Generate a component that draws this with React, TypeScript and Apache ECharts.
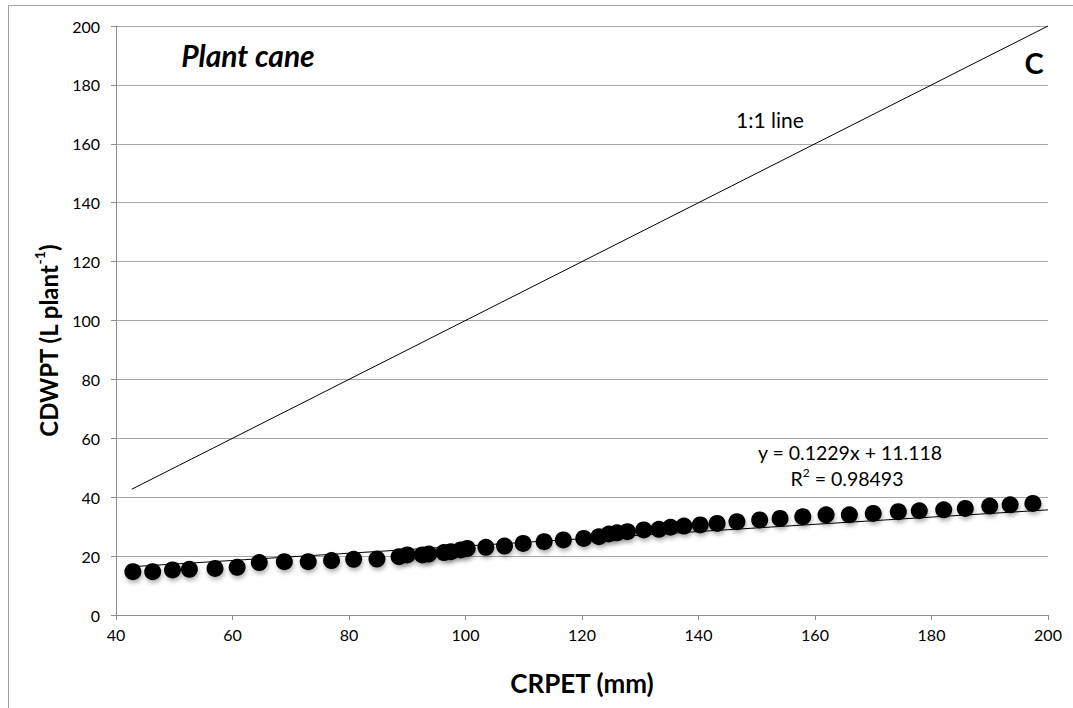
import React, { useEffect, useRef } from "react";
import * as echarts from "echarts";

const xValues = [42.9, 46.3, 49.7, 52.6, 57.0, 60.8, 64.6, 68.9, 73.0, 77.0, 80.8, 84.8, 88.6, 90.0, 92.6, 93.7, 96.3, 97.5, 99.2, 100.3, 103.5, 106.7, 109.9, 113.5, 116.8, 120.3, 122.9, 124.6, 126.0, 127.8, 130.6, 133.2, 135.2, 137.5, 140.3, 143.2, 146.6, 150.5, 154.0, 157.9, 161.9, 165.9, 170.0, 174.3, 177.9, 182.1, 185.8, 190.0, 193.5, 197.4];
const yValues = [14.7, 14.7, 15.3, 15.5, 15.8, 16.2, 17.8, 18.1, 18.1, 18.5, 18.9, 19.0, 19.8, 20.4, 20.4, 20.7, 21.2, 21.5, 22.1, 22.6, 23.0, 23.4, 24.3, 24.9, 25.5, 26.0, 26.6, 27.5, 27.9, 28.3, 28.9, 29.1, 29.8, 30.2, 30.6, 31.1, 31.7, 32.3, 32.8, 33.4, 34.0, 34.0, 34.5, 35.1, 35.4, 35.7, 36.2, 37.0, 37.4, 37.9];

const oneToOneX = [42.7, 200];
const oneToOneY = [42.7, 200];
const trendX = [42.7, 200];
const trendY = [16.4, 35.7];

const xTicks = [40, 60, 80, 100, 120, 140, 160, 180, 200];
const yTicks = [0, 20, 40, 60, 80, 100, 120, 140, 160, 180, 200];

const FONT = "Lato, 'Open Sans', sans-serif";

export default function App() {
  const ref = useRef<HTMLDivElement>(null);
  useEffect(() => {
    if (!ref.current) return;
    const chart = echarts.init(ref.current, null, { renderer: "svg" });
    const scatterData = xValues.map((x, i) => [x, yValues[i]]);
    const oneData = oneToOneX.map((x, i) => [x, oneToOneY[i]]);
    const trendData = trendX.map((x, i) => [x, trendY[i]]);
    chart.setOption({
      animation: false,
      backgroundColor: "#ffffff",
      grid: { left: 116, right: 25, top: 26, bottom: 93, containLabel: false },
      xAxis: {
        type: "value",
        min: xTicks[0],
        max: xTicks[xTicks.length - 1],
        interval: 20,
        axisLine: { show: true, lineStyle: { color: "#8c8c8c", width: 1 } },
        axisTick: { show: true, length: 5, lineStyle: { color: "#8c8c8c" } },
        splitLine: { show: false },
        axisLabel: { margin: 11, fontSize: 16, color: "#000", fontFamily: FONT },
        name: "CRPET (mm)",
        nameLocation: "middle",
        nameGap: 55,
        nameTextStyle: { fontSize: 26, fontWeight: "bold", color: "#000", fontFamily: FONT },
      },
      yAxis: {
        type: "value",
        min: yTicks[0],
        max: yTicks[yTicks.length - 1],
        interval: 20,
        axisLine: { show: true, lineStyle: { color: "#8c8c8c", width: 1 } },
        axisTick: { show: true, length: 5, lineStyle: { color: "#8c8c8c" } },
        splitLine: { show: true, lineStyle: { color: "#a6a6a6", width: 1 } },
        axisLabel: { margin: 16, fontSize: 16, color: "#000", fontFamily: FONT },
      },
      graphic: [
        {
          type: "rect",
          silent: true,
          shape: { x: 8.5, y: 5.5, width: 1100, height: 800 },
          style: { fill: "none", stroke: "#a0a0a0", lineWidth: 1 },
          z: -10,
        },
        {
          type: "text",
          x: 248,
          y: 55,
          style: {
            text: "Plant cane",
            font: `italic bold 30px ${FONT}`,
            fill: "#000",
            align: "center",
            verticalAlign: "middle",
          },
        },
        {
          type: "text",
          x: 1034,
          y: 62,
          style: {
            text: "C",
            font: `bold 29px ${FONT}`,
            fill: "#000",
            align: "center",
            verticalAlign: "middle",
          },
        },
        {
          type: "text",
          x: 770,
          y: 119,
          style: {
            text: "1:1 line",
            font: `21px ${FONT}`,
            fill: "#000",
            align: "center",
            verticalAlign: "middle",
          },
        },
        {
          type: "text",
          x: 850,
          y: 452,
          style: {
            text: "y = 0.1229x + 11.118",
            font: `19.5px ${FONT}`,
            fill: "#000",
            align: "center",
            verticalAlign: "middle",
          },
        },
        {
          type: "text",
          x: 847,
          y: 477,
          style: {
            text: "{a|R}{s|2}{a| = 0.98493}",
            fill: "#000",
            align: "center",
            verticalAlign: "middle",
            rich: {
              a: { font: `19.5px ${FONT}`, fill: "#000", lineHeight: 22, verticalAlign: "bottom" },
              s: { font: `12px ${FONT}`, fill: "#000", lineHeight: 22, verticalAlign: "top" },
            },
          },
        },
        {
          type: "text",
          x: 46,
          y: 341,
          rotation: Math.PI / 2,
          style: {
            text: "{a|CDWPT (L plant}{s|-1}{a|)}",
            align: "center",
            verticalAlign: "middle",
            rich: {
              a: { font: `bold 24px ${FONT}`, fill: "#000", lineHeight: 28, verticalAlign: "bottom" },
              s: { font: `bold 14px ${FONT}`, fill: "#000", lineHeight: 28, verticalAlign: "top" },
            },
          },
        },
      ],
      series: [
        {
          type: "line",
          data: oneData,
          symbol: "none",
          lineStyle: { color: "#000", width: 1 },
          z: 2,
        },
        {
          type: "line",
          data: trendData,
          symbol: "none",
          lineStyle: { color: "#000", width: 1 },
          z: 2,
        },
        {
          type: "scatter",
          data: scatterData,
          symbol: "circle",
          symbolSize: 17,
          itemStyle: {
            color: "#000",
            opacity: 1,
            shadowBlur: 4,
            shadowColor: "rgba(0,0,0,0.3)",
            shadowOffsetX: 1,
            shadowOffsetY: 3,
          },
          z: 3,
        },
      ],
    });
    return () => chart.dispose();
  }, []);
  return <div ref={ref} style={{ width: 1073, height: 708, position: "absolute", left: 0, top: 0 }} />;
}
